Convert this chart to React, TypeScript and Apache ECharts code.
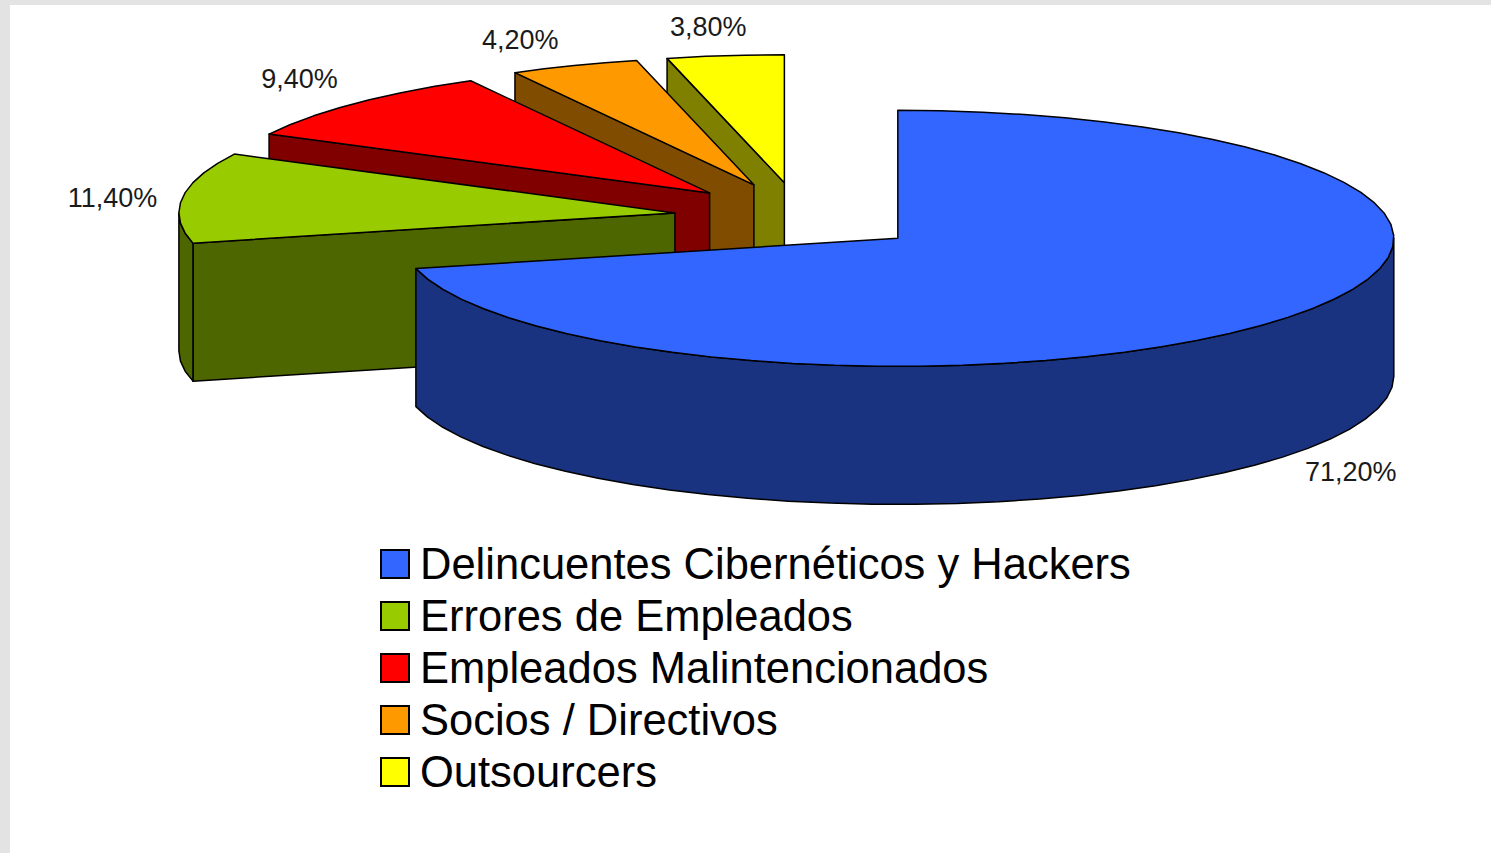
import React, { useEffect, useRef } from "react";
import * as echarts from "echarts";

// ---- data ----
const categories = [
  "Delincuentes Cibernéticos y Hackers",
  "Errores de Empleados",
  "Empleados Malintencionados",
  "Socios / Directivos",
  "Outsourcers",
];
const shares = [71.2, 11.4, 9.4, 4.2, 3.8];

// ---- styles ----
const topColors = ["#3366ff", "#99cc00", "#ff0000", "#ff9900", "#ffff00"];
const sideColors = ["#1a3380", "#4d6600", "#800000", "#804d00", "#808000"];
const labelOffsets = [
  [63, 17],
  [-70, 0],
  [-55, -24.5],
  [-54, -26],
  [-17, -29],
];
const FONT = '"Liberation Sans", Arial, sans-serif';

// ---- projected pie geometry ----
const CX = 799.3;
const CY = 217;
const RX = 496;
const RY = 128;
const DEPTH = 138;
const EXPLODE_X = 125.3;
const EXPLODE_Y = 34.5;
const ARC_STEP = 5;

const rad = (d: number) => (d * Math.PI) / 180;
const total = shares.reduce((a, b) => a + b, 0);

function arcPoints(cx: number, cy: number, a0: number, a1: number, dy = 0) {
  const n = Math.max(1, Math.ceil((a1 - a0) / ARC_STEP));
  const pts: number[][] = [];
  for (let i = 0; i <= n; i++) {
    const a = rad(a0 + ((a1 - a0) * i) / n);
    pts.push([cx + RX * Math.sin(a), cy - RY * Math.cos(a) + dy]);
  }
  return pts;
}

function makeRenderItem(index: number) {
  return (_params: any, api: any) => {
    const value = api.value(0);
    const startShare = shares.slice(0, index).reduce((a, b) => a + b, 0);
    const a0 = (startShare / total) * 360;
    const a1 = a0 + (value / total) * 360;
    const mid = rad((a0 + a1) / 2);
    const cx = CX + EXPLODE_X * Math.sin(mid);
    const cy = CY - EXPLODE_Y * Math.cos(mid);
    const stroke = { stroke: "#000", lineWidth: 1.5, lineJoin: "round" };
    const children: any[] = [];

    // cut face at the starting edge: visible if it faces the viewer
    const s = rad(a0);
    if (a0 > 180) {
      const ox = cx + RX * Math.sin(s);
      const oy = cy - RY * Math.cos(s);
      children.push({
        type: "polygon",
        shape: { points: [[ox, oy], [cx, cy], [cx, cy + DEPTH], [ox, oy + DEPTH]] },
        style: { fill: sideColors[index], ...stroke },
      });
    }
    // outer wall: the part of the rim on the near half
    const w0 = Math.max(a0, 90);
    const w1 = Math.min(a1, 270);
    if (w1 > w0) {
      const top = arcPoints(cx, cy, w0, w1);
      const bottom = arcPoints(cx, cy, w0, w1, DEPTH).reverse();
      children.push({
        type: "polygon",
        shape: { points: [...top, ...bottom] },
        style: { fill: sideColors[index], ...stroke },
      });
    }
    // top face
    children.push({
      type: "polygon",
      shape: { points: [[cx, cy], ...arcPoints(cx, cy, a0, a1)] },
      style: { fill: topColors[index], ...stroke },
    });
    // value label
    const lx = cx + RX * Math.sin(mid) + labelOffsets[index][0];
    const ly = cy - RY * Math.cos(mid) + (index === 0 ? DEPTH : 0) + labelOffsets[index][1];
    children.push({
      type: "text",
      style: {
        x: lx,
        y: ly,
        text: value.toFixed(2).replace(".", ",") + "%",
        fill: "#1a1a1a",
        fontSize: 27,
        fontFamily: FONT,
        align: "center",
        verticalAlign: "middle",
      },
    });
    return { type: "group", children };
  };
}

export default function App() {
  const ref = useRef<HTMLDivElement>(null);
  useEffect(() => {
    const chart = echarts.init(ref.current!, undefined, { renderer: "svg" });
    chart.setOption({
      animation: false,
      backgroundColor: "#ffffff",
      graphic: [
        { type: "rect", z: 0, shape: { x: 0, y: 0, width: 1491, height: 5 }, style: { fill: "#e3e3e3" } },
        { type: "rect", z: 0, shape: { x: 0, y: 0, width: 10, height: 853 }, style: { fill: "#e3e3e3" } },
      ],
      legend: {
        orient: "vertical",
        left: 380,
        top: 542,
        padding: 0,
        itemWidth: 28,
        itemHeight: 28,
        itemGap: 8,
        icon: "rect",
        selectedMode: false,
        textStyle: {
          color: "#000",
          fontSize: 43.5,
          fontFamily: FONT,
          lineHeight: 42,
          padding: [0, 0, 0, 6],
        },
        data: categories.map((name, i) => ({
          name,
          itemStyle: { color: topColors[i], borderColor: "#000", borderWidth: 2 },
        })),
      },
      series: categories.map((name, i) => ({
        type: "custom",
        name,
        coordinateSystem: "none",
        z: 10 - i,
        itemStyle: { color: topColors[i] },
        renderItem: makeRenderItem(i),
        data: [[shares[i]]],
        silent: true,
      })),
    });
    return () => chart.dispose();
  }, []);
  return (
    <div
      ref={ref}
      style={{ position: "absolute", left: 0, top: 0, width: 1491, height: 853 }}
    />
  );
}
